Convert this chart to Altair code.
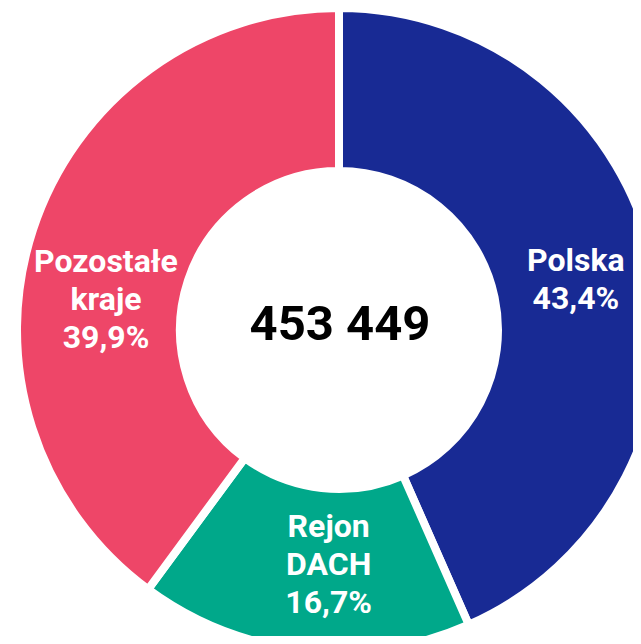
import altair as alt
import pandas as pd

categories = ["Polska", "Rejon DACH", "Pozostałe kraje"]
shares = [43.4, 16.7, 39.9]
colors = ["#182A94", "#00A88A", "#EE4668"]
total_label = "453 449"

def label_for(name, share):
    return "\n".join(name.split(" ") + [f"{share:.1f}".replace(".", ",") + "%"])

df = pd.DataFrame({
    "category": categories,
    "share": shares,
    "order": list(range(len(categories))),
    "label": [label_for(c, s) for c, s in zip(categories, shares)],
})

CX, CY = 331, 322

arcs = alt.Chart(df).mark_arc(
    outerRadius=322, innerRadius=159, stroke="white", strokeWidth=8
).encode(
    theta=alt.Theta("share:Q", stack=True),
    order=alt.Order("order:Q"),
    color=alt.Color("category:N", scale=alt.Scale(domain=categories, range=colors), legend=None),
    x=alt.value(CX), y=alt.value(CY),
)

stacked = alt.Chart(df).transform_window(
    cum="sum(share)", sort=[alt.SortField("order")], frame=[None, 0]
).transform_calculate(mid="datum.cum - datum.share / 2")

nudges = {"Polska": (2, -20), "Rejon DACH": (16, -42), "Pozostałe kraje": (-5, 7)}
label_layers = []
for cat in categories:
    dx, dy = nudges[cat]
    label_layers.append(
        stacked.transform_filter(alt.datum.category == cat).mark_text(
            radius=240, font="Roboto", fontWeight="bold", fontSize=32,
            color="white", lineBreak="\n", lineHeight=38,
            align="center", baseline="middle", dx=dx, dy=dy,
        ).encode(
            theta=alt.Theta("mid:Q", scale=alt.Scale(domain=[0, 100]), stack=None),
            text="label:N", x=alt.value(CX), y=alt.value(CY),
        )
    )

center = alt.Chart(pd.DataFrame({"t": [total_label]})).mark_text(
    font="Roboto", fontWeight="bold", fontSize=49, color="black",
    align="center", baseline="middle",
).encode(text="t:N", x=alt.value(CX + 1), y=alt.value(CY - 5))

chart = alt.layer(arcs, *label_layers, center).resolve_scale(theta="independent").properties(
    width=625, height=628, padding=0, autosize="none", background="white"
).configure_view(stroke=None)

chart.save("out.html", embed_options={"renderer": "svg", "actions": False})
